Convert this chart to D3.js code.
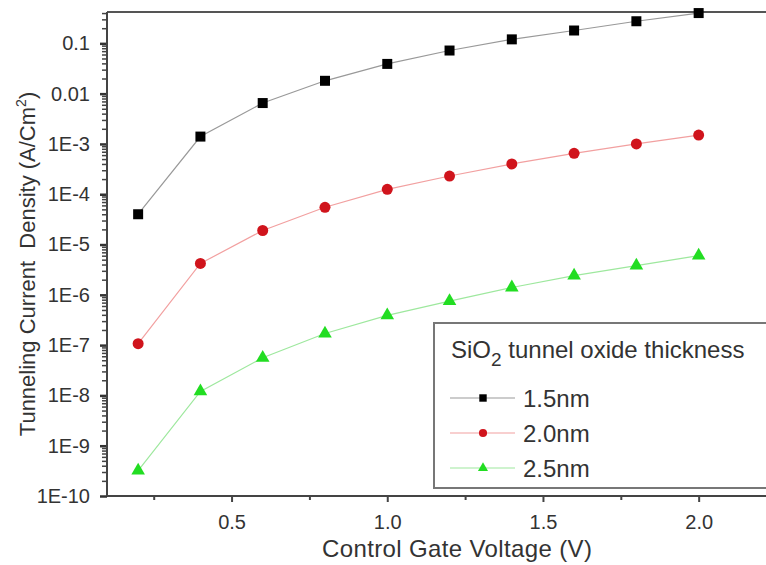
<!DOCTYPE html>
<html>
<head>
<meta charset="utf-8">
<script src="https://cdn.jsdelivr.net/npm/d3@7"></script>
<style>
  body { margin: 0; background: #fff; }
  text { font-family: "Liberation Sans", Arial, sans-serif; fill: #333; }
</style>
</head>
<body>
<div id="chart"></div>
<script>
// Data
const voltage = [0.2, 0.4, 0.6, 0.8, 1.0, 1.2, 1.4, 1.6, 1.8, 2.0];
const oxide15 = [4e-5, 1.4e-3, 6.5e-3, 0.018, 0.039, 0.072, 0.12, 0.18, 0.275, 0.40];
const oxide20 = [1.07e-7, 4.2e-6, 1.9e-5, 5.5e-5, 1.25e-4, 2.3e-4, 4.0e-4, 6.5e-4, 1.0e-3, 1.5e-3];
const oxide25 = [3.2e-10, 1.2e-8, 5.6e-8, 1.7e-7, 3.9e-7, 7.5e-7, 1.4e-6, 2.4e-6, 3.8e-6, 6.0e-6];
const seriesNames = ["1.5nm", "2.0nm", "2.5nm"];
const yTickValues = [0.1, 0.01, 1e-3, 1e-4, 1e-5, 1e-6, 1e-7, 1e-8, 1e-9, 1e-10];
const yTickLabels = ["0.1", "0.01", "1E-3", "1E-4", "1E-5", "1E-6", "1E-7", "1E-8", "1E-9", "1E-10"];
const xTickValues = [0.5, 1.0, 1.5, 2.0];
const xTickLabels = ["0.5", "1.0", "1.5", "2.0"];

const width = 766, height = 565;
const plotLeft = 107, plotTop = 12, plotBottom = 496;

const svg = d3.select("#chart")
  .append("svg")
  .attr("width", width)
  .attr("height", height);

// Scales
const x = d3.scaleLinear()
  .domain([0.1, 2.3])
  .range([plotLeft, plotLeft + 2.2 * 311.4]);

const y = d3.scaleLog()
  .domain([1e-10, 0.42])
  .range([plotBottom, plotTop]);

// Minor ticks
const xMinor = [0.25, 0.75, 1.25, 1.75, 2.25];
const yMinor = [];
for (let e = -10; e < 0; e++) {
  for (let m = 2; m <= 9; m++) {
    const v = m * Math.pow(10, e);
    if (v < 0.42) yMinor.push(v);
  }
}

// X axis
const xAxis = svg.append("g")
  .attr("transform", `translate(0,${plotBottom})`)
  .call(d3.axisBottom(x).tickValues(xTickValues)
    .tickFormat((d, i) => xTickLabels[i]).tickSize(6).tickPadding(13));
xAxis.select(".domain").remove();
xAxis.selectAll("text").style("font-size", "20px");
xAxis.selectAll("line").attr("stroke", "#444").attr("stroke-width", 2);

svg.append("g")
  .attr("transform", `translate(0,${plotBottom})`)
  .call(d3.axisBottom(x).tickValues(xMinor).tickFormat("").tickSize(4))
  .call(g => g.select(".domain").remove())
  .selectAll("line").attr("stroke", "#444").attr("stroke-width", 2);

// Y axis
const yAxis = svg.append("g")
  .attr("transform", `translate(${plotLeft},0)`)
  .call(d3.axisLeft(y).tickValues(yTickValues)
    .tickFormat((d, i) => yTickLabels[i]).tickSize(7).tickPadding(10));
yAxis.select(".domain").remove();
yAxis.selectAll("text").style("font-size", "20px");
yAxis.selectAll("line").attr("stroke", "#333").attr("stroke-width", 2.5);

svg.append("g")
  .attr("transform", `translate(${plotLeft},0)`)
  .call(d3.axisLeft(y).tickValues(yMinor).tickFormat("").tickSize(5))
  .call(g => g.select(".domain").remove())
  .selectAll("line").attr("stroke", "#444").attr("stroke-width", 1.5);

// Frame lines
svg.append("line")
  .attr("x1", plotLeft).attr("x2", width).attr("y1", plotBottom).attr("y2", plotBottom)
  .attr("stroke", "#444").attr("stroke-width", 2);
svg.append("line")
  .attr("x1", plotLeft).attr("x2", width).attr("y1", plotTop).attr("y2", plotTop)
  .attr("stroke", "#555").attr("stroke-width", 2);
svg.append("line")
  .attr("x1", plotLeft).attr("x2", plotLeft).attr("y1", plotTop).attr("y2", plotBottom)
  .attr("stroke", "#444").attr("stroke-width", 2);

// Axis titles
svg.append("text")
  .attr("x", 457).attr("y", 557)
  .attr("text-anchor", "middle")
  .style("font-size", "24px")
  .attr("textLength", 270)
  .text("Control Gate Voltage (V)");

const yTitle = svg.append("text")
  .attr("transform", "translate(35,264) rotate(-90)")
  .attr("text-anchor", "middle")
  .style("font-size", "22px");
yTitle.append("tspan").text("Tunneling Current\u00a0 Density (A/Cm");
yTitle.append("tspan").attr("dy", -9).style("font-size", "14px").text("2");
yTitle.append("tspan").attr("dy", 9).text(")");

// Series
const series = [
  { name: seriesNames[0], values: oxide15, color: "#000", line: "#999", shape: d3.symbolSquare, size: 100 },
  { name: seriesNames[1], values: oxide20, color: "#d0141c", line: "#f2a0a0", shape: d3.symbolCircle, size: 95 },
  { name: seriesNames[2], values: oxide25, color: "#22dd22", line: "#9ee89e", shape: d3.symbolTriangle, size: 80 }
];

const line = d3.line()
  .x((d, i) => x(voltage[i]))
  .y(d => y(d));

series.forEach(s => {
  svg.append("path")
    .datum(s.values)
    .attr("fill", "none")
    .attr("stroke", s.line)
    .attr("stroke-width", 1.2)
    .attr("d", line);

  svg.selectAll(null)
    .data(s.values)
    .enter()
    .append("path")
    .attr("transform", (d, i) => `translate(${x(voltage[i])},${y(d)})`)
    .attr("d", d3.symbol().type(s.shape).size(s.size))
    .attr("fill", s.color);
});

// Legend
const legend = svg.append("g");
legend.append("rect")
  .attr("x", 434).attr("y", 323)
  .attr("width", 400).attr("height", 165)
  .attr("fill", "#fff")
  .attr("stroke", "#777").attr("stroke-width", 2);

const lt = legend.append("text")
  .attr("x", 451).attr("y", 358)
  .style("font-size", "24px");
lt.append("tspan").text("SiO");
lt.append("tspan").attr("dy", 8).style("font-size", "19px").text("2");
lt.append("tspan").attr("dy", -8).text(" tunnel oxide thickness");

series.forEach((s, i) => {
  const cy = 398 + i * 35;
  legend.append("line")
    .attr("x1", 450).attr("x2", 515).attr("y1", cy).attr("y2", cy)
    .attr("stroke", s.line).attr("stroke-width", 1.2);
  legend.append("path")
    .attr("transform", `translate(483,${cy})`)
    .attr("d", d3.symbol().type(s.shape).size(s.size * 0.55))
    .attr("fill", s.color);
  legend.append("text")
    .attr("x", 523).attr("y", cy + 9)
    .style("font-size", "24px")
    .text(s.name);
});
</script>
</body>
</html>
